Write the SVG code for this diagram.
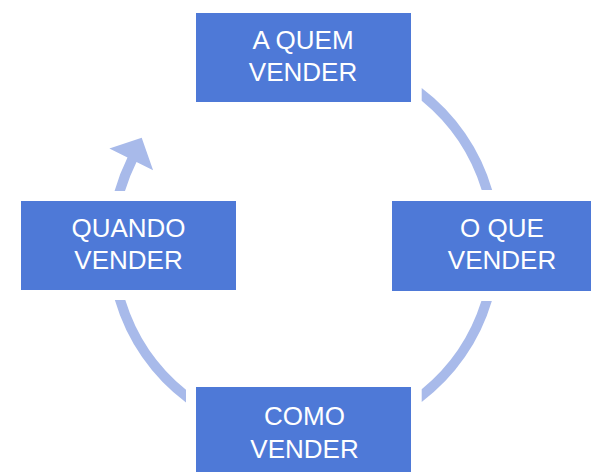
<svg xmlns="http://www.w3.org/2000/svg" width="591" height="472" viewBox="0 0 591 472">
  <style>
    .box { fill: #4E79D7; }
    .lbl { font-family: "Liberation Sans", Arial, sans-serif; font-size: 26px; fill: #FFFFFF; text-anchor: middle; }
    .arc { fill: #A8BAEA; stroke: none; }
  </style>
  <rect width="591" height="472" fill="#FFFFFF"/>
  <g id="connectors">
    <path class="arc" d="M 421.7,88.03 A 196.5 196.5 0 0 1 492.15,190 L 481.7,190 A 186.5 186.5 0 0 0 421.7,100.74 Z"/>
    <path class="arc" d="M 491.85,301 A 196.5 196.5 0 0 1 421.7,401.97 L 421.7,389.26 A 186.5 186.5 0 0 0 481.39,301 Z"/>
    <path class="arc" d="M 186,402.5 A 196.5 196.5 0 0 1 114.85,300 L 125.3,300 A 186.5 186.5 0 0 0 186,389.83 Z"/>
    <path class="arc" d="M 114.57,191 A 196.5 196.5 0 0 1 127.5,157.5 L 109.4,148.4 L 141.7,137.7 L 153.1,170.2 L 136.5,161.9 A 186.5 186.5 0 0 0 124.99,191 Z"/>
  </g>
  <g id="node-a-quem">
    <rect class="box" x="196" y="13" width="215" height="89"/>
    <text class="lbl" x="303" y="48.5">A QUEM</text>
    <text class="lbl" x="303" y="81">VENDER</text>
  </g>
  <g id="node-o-que">
    <rect class="box" x="392" y="201" width="216" height="90"/>
    <text class="lbl" x="502" y="236.7">O QUE</text>
    <text class="lbl" x="502" y="268.7">VENDER</text>
  </g>
  <g id="node-como">
    <rect class="box" x="196" y="387" width="215" height="89"/>
    <text class="lbl" x="304.5" y="425">COMO</text>
    <text class="lbl" x="304.5" y="457.7">VENDER</text>
  </g>
  <g id="node-quando">
    <rect class="box" x="21" y="201" width="215" height="89"/>
    <text class="lbl" x="128.5" y="236.7">QUANDO</text>
    <text class="lbl" x="128.5" y="269">VENDER</text>
  </g>
</svg>
